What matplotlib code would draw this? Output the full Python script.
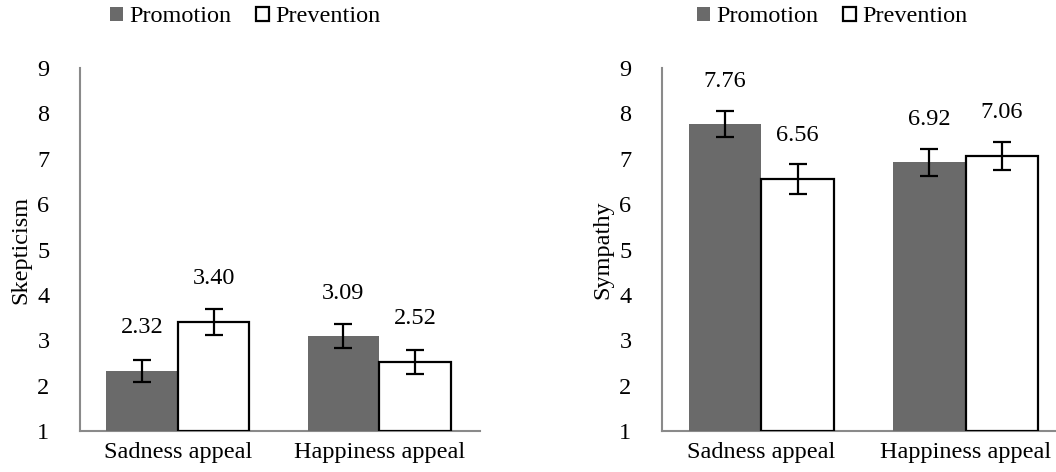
import os
import matplotlib
matplotlib.use('Agg')
import matplotlib.pyplot as plt
from matplotlib.patches import Patch
from matplotlib import font_manager as fm
import numpy as np

categories = ['Sadness appeal', 'Happiness appeal']
series = ['Promotion', 'Prevention']

skept_promo = [2.32, 3.09]
skept_prev = [3.40, 2.52]
skept_promo_err = [0.25, 0.27]
skept_prev_err = [0.28, 0.27]

symp_promo = [7.76, 6.92]
symp_prev = [6.56, 7.06]
symp_promo_err = [0.29, 0.29]
symp_prev_err = [0.33, 0.31]

yticks = [1, 2, 3, 4, 5, 6, 7, 8, 9]

promo_color = '#6a6a6a'
spine_color = '#8a8a8a'
fs = 17.5

serif_path = fm.findfont(fm.FontProperties(family='Liberation Serif'))
if os.path.exists(serif_path):
    fp = fm.FontProperties(fname=serif_path, size=fs)
else:
    fp = fm.FontProperties(family='serif', size=fs)

fig = plt.figure(figsize=(10.56, 4.72), dpi=100)
ax1 = fig.add_axes([80/1056, 41/472, 400/1056, 363/472])
ax2 = fig.add_axes([662/1056, 41/472, 406/1056, 363/472])


def draw(ax, promo, prev, promo_err, prev_err, ylabel):
    x = np.arange(len(categories))
    w = 0.355
    ax.bar(x - w/2, np.array(promo) - 1, w, bottom=1, color=promo_color,
           edgecolor='none', zorder=2)
    ax.bar(x + w/2, np.array(prev) - 1, w, bottom=1, color='white',
           edgecolor='black', linewidth=1.6, zorder=2)
    ax.errorbar(x - w/2, promo, yerr=promo_err, fmt='none', ecolor='black',
                elinewidth=1.6, capsize=6.5, capthick=1.6, zorder=3)
    ax.errorbar(x + w/2, prev, yerr=prev_err, fmt='none', ecolor='black',
                elinewidth=1.6, capsize=6.5, capthick=1.6, zorder=3)
    for xi, v in zip(x - w/2, promo):
        ax.text(xi, v + 0.95, f'{v:.2f}', ha='center', va='center',
                fontproperties=fp)
    for xi, v in zip(x + w/2, prev):
        ax.text(xi, v + 0.95, f'{v:.2f}', ha='center', va='center',
                fontproperties=fp)
    ax.set_xlim(-0.485, 1.5)
    ax.set_ylim(1, 9)
    ax.set_yticks(yticks)
    ax.set_yticklabels([str(t) for t in yticks], fontproperties=fp)
    ax.set_xticks(x)
    ax.set_xticklabels(categories, fontproperties=fp)
    ax.tick_params(axis='y', length=0, pad=22)
    ax.tick_params(axis='x', length=0, pad=8)
    for s in ['top', 'right']:
        ax.spines[s].set_visible(False)
    for s in ['left', 'bottom']:
        ax.spines[s].set_color(spine_color)
        ax.spines[s].set_linewidth(1.5)
    ax.spines['bottom'].set_zorder(1)
    ax.set_ylabel(ylabel, fontproperties=fp, labelpad=4)


draw(ax1, skept_promo, skept_prev, skept_promo_err, skept_prev_err, 'Skepticism')
draw(ax2, symp_promo, symp_prev, symp_promo_err, symp_prev_err, 'Sympathy')

handles = [Patch(facecolor=promo_color, edgecolor='none'),
           Patch(facecolor='white', edgecolor='black', linewidth=1.6)]
for lx in [110/1056, 697/1056]:
    fig.legend(handles, series, loc='center left', bbox_to_anchor=(lx, 1 - 17/472),
               ncol=2, frameon=False, handlelength=0.55,
               handleheight=0.55, handletextpad=0.25, columnspacing=1.0,
               borderaxespad=0, borderpad=0, prop=fp)

fig.savefig('out.png', dpi=100)
